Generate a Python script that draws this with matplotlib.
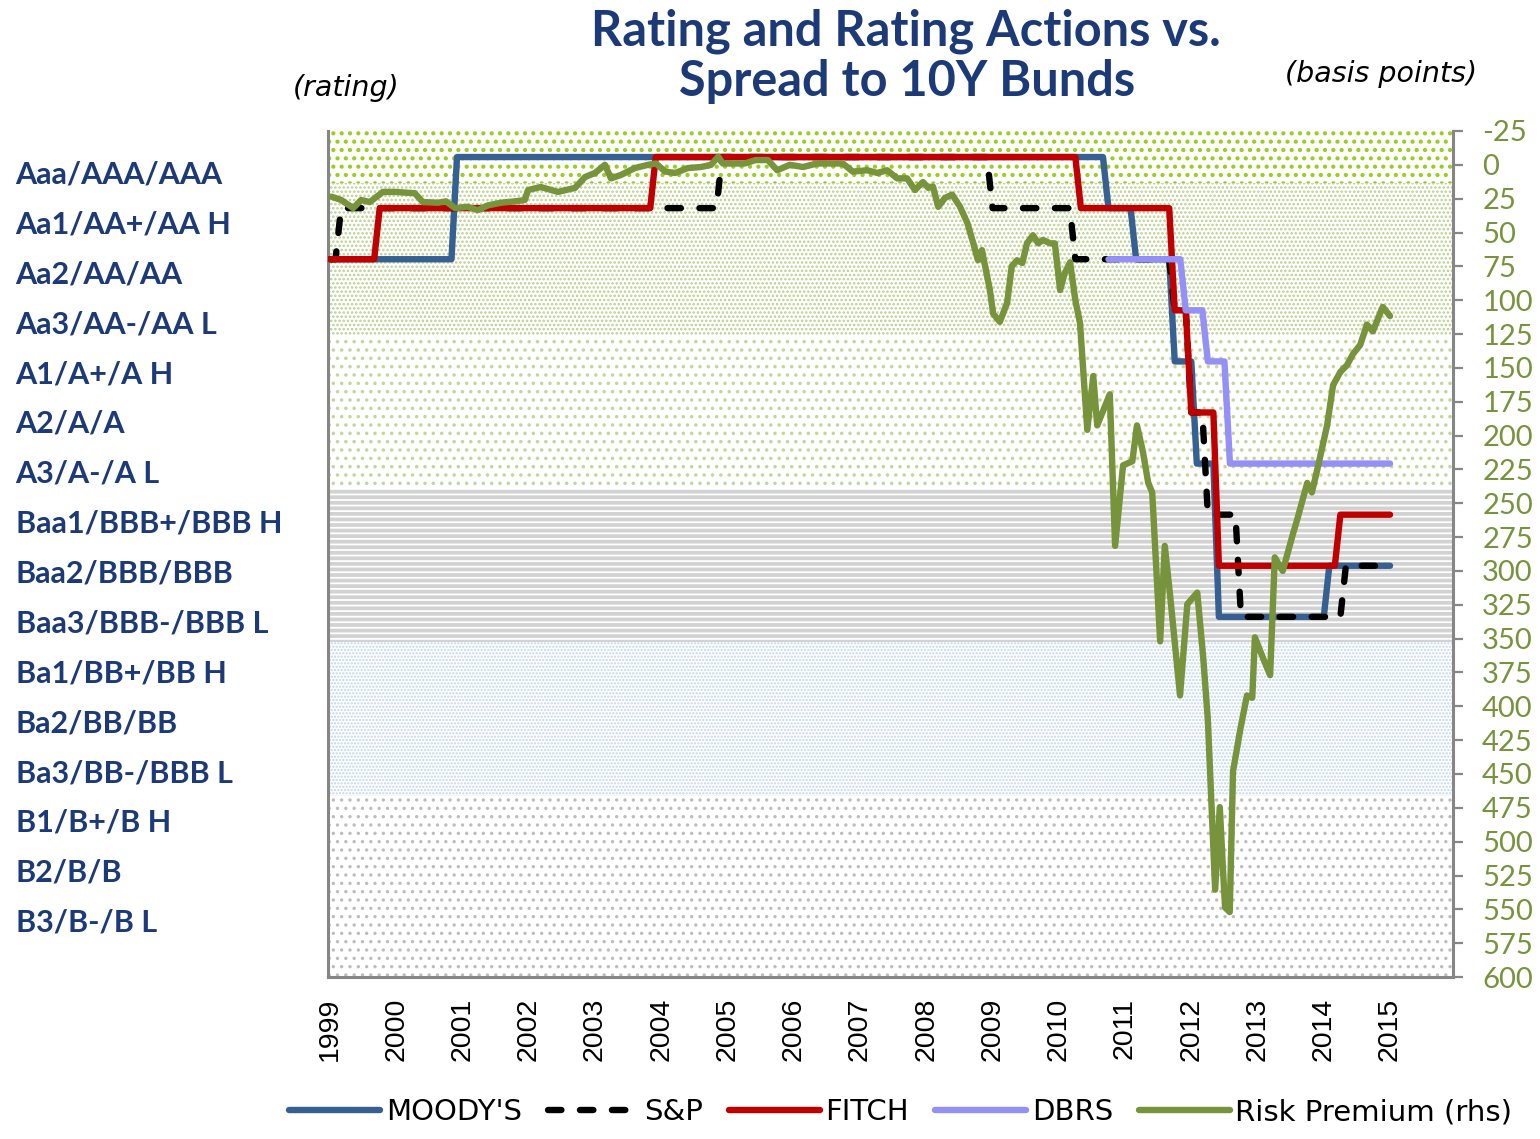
import numpy as np
import matplotlib.pyplot as plt

plt.rcParams['font.family'] = ['Lato', 'DejaVu Sans']
plt.rcParams['axes.unicode_minus'] = False

NAVY = '#1c3a78'
OLIVE = '#77933c'
GREY = '#868686'

rating_labels = [
    "Aaa/AAA/AAA", "Aa1/AA+/AA H", "Aa2/AA/AA", "Aa3/AA-/AA L",
    "A1/A+/A H", "A2/A/A", "A3/A-/A L", "Baa1/BBB+/BBB H",
    "Baa2/BBB/BBB", "Baa3/BBB-/BBB L", "Ba1/BB+/BB H", "Ba2/BB/BB",
    "Ba3/BB-/BBB L", "B1/B+/B H", "B2/B/B", "B3/B-/B L",
]
years = list(range(1999, 2016))

# rating actions: month the new rating applies, notch (0 = Aaa)
moodys_dates = ["1999-01", "2000-12", "2010-10", "2011-03", "2011-10", "2012-02", "2012-06", "2014-02"]
moodys_notch = [2, 0, 1, 2, 4, 6, 9, 8]
sp_dates = ["1999-01", "1999-03", "2004-12", "2009-01", "2010-04", "2011-10", "2012-01", "2012-04", "2012-10", "2014-05"]
sp_notch = [2, 1, 0, 1, 2, 3, 5, 7, 9, 8]
fitch_dates = ["1999-01", "1999-10", "2003-12", "2010-05", "2011-10", "2012-01", "2012-06", "2014-04"]
fitch_notch = [2, 1, 0, 1, 3, 5, 8, 7]
dbrs_dates = ["2010-10", "2011-12", "2012-04", "2012-08"]
dbrs_notch = [2, 3, 4, 6]

# spread over 10Y Bunds (bp)
rp_year = [
    1999.02, 1999.17, 1999.35, 1999.47, 1999.60, 1999.80, 1999.98, 2000.28, 2000.40, 2000.63,
    2000.75, 2000.89, 2001.08, 2001.23, 2001.38, 2001.58, 2001.79, 2001.94, 2001.99, 2002.18,
    2002.44, 2002.70, 2002.85, 2003.00, 2003.15, 2003.24, 2003.39, 2003.60, 2003.80, 2003.92,
    2004.06, 2004.21, 2004.40, 2004.60, 2004.75, 2004.86, 2004.93, 2005.26, 2005.42, 2005.61,
    2005.75, 2005.94, 2006.14, 2006.35, 2006.74, 2006.89, 2007.11, 2007.26, 2007.41, 2007.56,
    2007.71, 2007.83, 2007.95, 2008.03, 2008.10, 2008.18, 2008.28, 2008.39, 2008.51, 2008.62,
    2008.71, 2008.78, 2008.84, 2008.96, 2009.01, 2009.11, 2009.22, 2009.29, 2009.37, 2009.45,
    2009.52, 2009.61, 2009.69, 2009.76, 2009.87, 2009.94, 2010.02, 2010.09, 2010.17, 2010.25,
    2010.32, 2010.43, 2010.52, 2010.58, 2010.77, 2010.85, 2010.97, 2011.11, 2011.18, 2011.27,
    2011.35, 2011.41, 2011.53, 2011.60, 2011.68, 2011.83, 2011.94, 2012.09, 2012.18, 2012.25,
    2012.36, 2012.43, 2012.48, 2012.51, 2012.58, 2012.63, 2012.74, 2012.84, 2012.92, 2012.96,
    2013.08, 2013.19, 2013.26, 2013.38, 2013.54, 2013.60, 2013.75, 2013.82, 2013.90, 2014.05,
    2014.14, 2014.25, 2014.35, 2014.44, 2014.55, 2014.65, 2014.74, 2014.89, 2015.00,
]
rp_bp = [
    23.5, 26, 32, 26, 27.5, 20, 20, 21, 27.5, 28,
    27, 32, 31, 33.5, 30, 28, 27, 26, 18.6, 16.4,
    20, 17, 9, 6, 0, 10, 7.5, 2.4, 0, -1,
    5, 6, 2.4, 1.6, 0, -6, -1, -1, -3.5, -3.5,
    4, 0, 1.6, -1, -1, 5, 4, 6, 4, 10,
    10, 18.6, 12.7, 17, 16, 31, 24.5, 22, 31, 43,
    58, 70.5, 63, 92.5, 110, 116, 102, 75, 70.5, 72.5,
    58, 52, 58, 55.5, 58, 58, 92.5, 80, 72, 100,
    116.7, 195.8, 156, 192.5, 169.5, 281.5, 222, 219, 192.5, 212,
    235, 242, 352, 281.5, 318, 392, 324.5, 316, 364, 410,
    535.5, 474.5, 522, 548.7, 552, 448, 417, 392, 393.7, 349,
    364, 377, 290, 300, 271.7, 261.8, 235, 242, 225.5, 192.5,
    162.8, 153, 148, 139.8, 133, 118, 123, 105, 111.7,
]

months = 1999 + np.arange(16 * 12 + 1) / 12


def to_year(stamp):
    y, m = stamp.split("-")
    return int(y) + (int(m) - 1) / 12


def monthly(dates, notches):
    starts = np.array([to_year(d) for d in dates])
    idx = np.searchsorted(starts, months + 1e-6, side="right") - 1
    out = np.array(notches, dtype=float)[np.clip(idx, 0, None)]
    out[idx < 0] = np.nan
    return out


fig = plt.figure(figsize=(15.4, 11.39), dpi=100)
rect = [0.2130, 0.1422, 0.7305, 0.7428]

# rating names down the left side
lab = fig.add_axes(rect, frameon=False)
lab.set_ylim(16.14, -0.822)
lab.set_xticks([])
lab.set_yticks(range(len(rating_labels)))
lab.set_yticklabels(rating_labels, ha="left", fontsize=22, fontweight="bold", color=NAVY)
lab.tick_params(axis="y", length=0, pad=225)
lab.patch.set_visible(False)

ax = fig.add_axes(rect)
ax.set_ylim(16.05, -0.51)
ax.set_xlim(1998.97, 2015.95)

# shaded rating bands
bands = [
    (-1, 0.5, "..", "#9acd1e", 1.8),
    (0.5, 3.5, "....", "#b9cf8c", 1.2),
    (3.5, 6.5, "..", "#c3d69b", 1.3),
    (6.5, 9.5, "---", "#d2d2d2", 2.7),
    (9.5, 12.5, ".....", "#c3d5ee", 1.1),
    (12.5, 17, "..", "#bdbdbd", 1.2),
]
for lo, hi, hatch, col, hlw in bands:
    span = ax.axhspan(lo, hi, facecolor="none", edgecolor=col, hatch=hatch, linewidth=0, zorder=0.5)
    span.set_hatch_linewidth(hlw)

LW = 4.6
l_moodys, = ax.plot(months, monthly(moodys_dates, moodys_notch), color="#376092", lw=LW,
                    solid_capstyle="round", solid_joinstyle="round", zorder=2, label="MOODY'S")
l_sp, = ax.plot(months, monthly(sp_dates, sp_notch), color="black", lw=LW, dashes=(2.1, 2.9),
                dash_capstyle="round", zorder=3, label="S&P")
l_fitch, = ax.plot(months, monthly(fitch_dates, fitch_notch), color="#c00000", lw=LW,
                   solid_capstyle="round", solid_joinstyle="round", zorder=4, label="FITCH")
l_dbrs, = ax.plot(months, monthly(dbrs_dates, dbrs_notch), color="#9490f5", lw=LW,
                  solid_capstyle="round", solid_joinstyle="round", zorder=5, label="DBRS")

ax.set_yticks([])
ax.set_xticks(years)
ax.set_xticklabels([str(y) for y in years], rotation=90, fontsize=20.5,
                   family="Liberation Sans", va="top")
ax.tick_params(axis="x", length=0, pad=15)
for side in ("top", "right"):
    ax.spines[side].set_visible(False)
for side in ("left", "bottom"):
    ax.spines[side].set_color(GREY)
    ax.spines[side].set_linewidth(2.2)

tw = ax.twinx()
tw.set_ylim(600, -25)
l_rp, = tw.plot(rp_year, rp_bp, color=OLIVE, lw=LW, solid_capstyle="round",
                solid_joinstyle="round", label="Risk Premium (rhs)")
tw.set_yticks(np.arange(-25, 601, 25))
tw.tick_params(axis="y", direction="out", length=7, width=1.6, color=GREY,
               labelcolor=OLIVE, labelsize=21, pad=14)
for side in ("top", "left", "bottom"):
    tw.spines[side].set_visible(False)
tw.spines["right"].set_color(GREY)
tw.spines["right"].set_linewidth(2.2)

fig.text(0.588, 1 - 45 / 1139, "Rating and Rating Actions vs.", ha="center", va="baseline",
         fontsize=35, fontweight="bold", color=NAVY)
fig.text(0.589, 1 - 96 / 1139, "Spread to 10Y Bunds", ha="center", va="baseline",
         fontsize=35, fontweight="bold", color=NAVY)
fig.text(0.225, 0.923, "(rating)", ha="center", va="center", fontsize=20.5,
         style="italic", family="DejaVu Sans")
fig.text(0.897, 0.935, "(basis points)", ha="center", va="center", fontsize=20.5,
         style="italic", family="DejaVu Sans")

fig.legend(handles=[l_moodys, l_sp, l_fitch, l_dbrs, l_rp], loc="center",
           bbox_to_anchor=(0.585, 0.0237), ncol=5, frameon=False,
           prop={"family": "DejaVu Sans", "size": 21},
           handlelength=3.1, handletextpad=0.2, columnspacing=0.9)

fig.savefig("out.png", dpi=100)
